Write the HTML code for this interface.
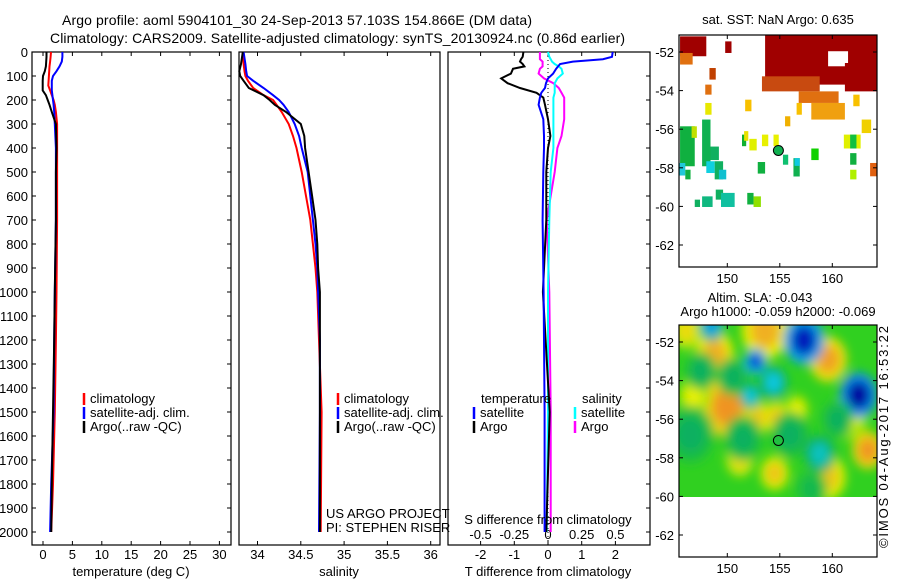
<!DOCTYPE html>
<html><head><meta charset="utf-8"><style>
html,body{margin:0;padding:0;background:#fff;}
svg{display:block;font-family:"Liberation Sans",sans-serif;}
text{font-size:13px;fill:#000;}
</style></head><body>
<svg id="fig" width="900" height="580" viewBox="0 0 900 580" xmlns="http://www.w3.org/2000/svg">
<defs>
<clipPath id="clipSST"><rect x="679" y="35" width="198" height="232"/></clipPath>
<clipPath id="clipSLA"><rect x="679" y="325" width="198" height="172"/></clipPath>
<filter id="blur" x="-20%" y="-20%" width="140%" height="140%"><feGaussianBlur stdDeviation="5"/></filter>
</defs>
<text x="62" y="25" style="font-size:14px" textLength="470">Argo profile: aoml 5904101_30 24-Sep-2013 57.103S 154.866E (DM data)</text>
<text x="50" y="43" style="font-size:14px" textLength="575">Climatology: CARS2009. Satellite-adjusted climatology: synTS_20130924.nc (0.86d earlier)</text>
<g id="g1"></g>
<g id="g2"></g>
<g id="g3"></g>
<g id="g4"></g>
<g id="g5"></g>
<text transform="translate(888,548) rotate(-90)" x="0" y="0" textLength="222">©IMOS 04-Aug-2017 16:53:22</text>
</svg>
<script>
// ---------- profile data ----------
const depthT = [0,20,40,60,80,100,120,140,160,180,200,220,250,300,400,500,700,1000,1200,1500,1800,2000];
const argoT  = [0.6,0.6,0.55,0.5,0.3,0.0,-0.05,-0.05,-0.05,0.5,0.8,1.1,1.5,2.2,2.3,2.2,2.2,2.0,1.9,1.7,1.5,1.4];
const climT  = [1.36,1.3,1.2,1.1,1.05,1.0,0.95,0.9,1.2,1.5,1.8,2.0,2.2,2.4,2.4,2.4,2.4,2.3,2.2,2.0,1.7,1.4];
const satT   = [3.3,3.3,3.2,2.8,2.3,1.7,1.5,1.5,1.5,1.6,1.7,1.8,1.9,2.0,2.2,2.2,2.2,2.0,1.9,1.8,1.4,1.2];
const depthS = [0,50,80,100,120,150,180,200,220,250,300,350,400,500,600,700,800,900,1000,1200,1500,2000];
const argoS  = [33.83,33.81,33.79,33.80,33.84,33.90,34.07,34.14,34.20,34.33,34.50,34.54,34.55,34.59,34.63,34.67,34.69,34.70,34.72,34.72,34.72,34.72];
const climS  = [33.83,33.84,33.85,33.86,33.89,33.95,34.07,34.18,34.22,34.28,34.36,34.41,34.45,34.51,34.56,34.61,34.64,34.67,34.69,34.71,34.74,34.73];
const satS   = [33.84,33.86,33.87,33.88,33.95,34.07,34.18,34.25,34.30,34.36,34.43,34.48,34.51,34.58,34.61,34.64,34.67,34.69,34.70,34.72,34.72,34.71];
const depthD = [0,20,30,40,50,60,70,90,110,130,150,170,190,220,280,350,400,500,700,1000,1500,2000];
const satTdiff  = [1.92,1.9,1.63,0.74,0.36,0.3,0.24,0.15,0.0,-0.06,-0.09,-0.2,-0.24,-0.28,-0.14,-0.12,-0.12,-0.14,-0.16,-0.13,-0.1,-0.1];
const argoTdiff = [-0.73,-0.75,-0.8,-0.83,-0.75,-0.7,-1.04,-1.1,-1.39,-1.2,-0.83,-0.34,-0.14,-0.09,0.0,0.07,0.0,-0.05,-0.05,-0.15,0.05,-0.05];
const satSdiff  = [0,0.01,0.02,0.03,0.05,0.08,0.1,0.11,0.07,0.05,0.05,0.05,0.04,0.04,0.04,0.04,0.04,0.02,0.01,0.0,0.0,-0.01];
const argoSdiff = [-0.06,-0.06,-0.06,-0.04,-0.04,-0.04,-0.06,-0.07,-0.03,0.04,0.08,0.10,0.12,0.12,0.12,0.10,0.07,0.05,-0.01,0.01,0.02,0.02];
const depthTicks = [0,100,200,300,400,500,600,700,800,900,1000,1100,1200,1300,1400,1500,1600,1700,1800,1900,2000];
const tempTicks = [0,5,10,15,20,25,30];
const salTicks = [34,34.5,35,35.5,36];
const salTickLabels = ["34","34.5","35","35.5","36"];
const tdiffTicks = [-2,-1,0,1,2];
const sdiffTicks = [-0.5,-0.25,0,0.25,0.5];
const sdiffLabels = ["-0.5","-0.25","0","0.25","0.5"];
// ---------- map data ----------
const lonTicks = [150,155,160];
const latTicks = [-52,-54,-56,-58,-60,-62];
const sstCells = [
[153.6,-51.1,164.3,-53.69,"#a00000"],[159.6,-51.96,161.5,-52.74,"#ffffff"],[161.2,-52.57,164.3,-54.04,"#a00000"],
[153.3,-53.26,158.8,-54.04,"#c84a10"],[156.8,-54.04,160.6,-54.64,"#e07010"],[158.0,-54.64,161.2,-55.5,"#f0a010"],
[145.5,-51.19,148.0,-52.22,"#a00000"],[149.8,-51.45,150.4,-52.05,"#a00000"],[145.5,-52.05,146.7,-52.65,"#e07010"],
[148.3,-52.83,148.9,-53.43,"#c04000"],[147.9,-53.69,148.5,-54.21,"#e07010"],[147.9,-54.64,148.5,-55.25,"#e8e800"],
[151.7,-54.47,152.3,-55.07,"#f8c000"],[156.6,-54.64,157.1,-55.25,"#f8c000"],[155.5,-55.33,156.0,-55.85,"#f0b000"],
[162.0,-54.21,162.6,-54.81,"#f8c000"],[162.8,-55.5,163.7,-56.2,"#f0d000"],
[145.5,-55.85,146.9,-57.92,"#10b040"],[146.6,-55.85,147.1,-56.45,"#c0e000"],[147.6,-55.5,148.4,-57.92,"#10b050"],
[148.4,-56.9,149.2,-57.6,"#10b060"],[148.0,-57.66,148.8,-58.27,"#10d0e0"],[148.8,-57.66,149.6,-58.6,"#10b060"],
[149.2,-58.1,149.9,-58.6,"#10c0d0"],[145.4,-57.75,146.0,-58.4,"#20c8d8"],[146.0,-58.1,146.5,-58.6,"#10b040"],
[151.4,-56.28,151.8,-56.88,"#10b030"],[151.6,-56.1,152.0,-56.6,"#e8e000"],[152.1,-56.5,152.8,-57.1,"#e0f000"],
[153.3,-56.28,153.9,-56.88,"#e8f000"],[154.4,-56.28,154.9,-56.88,"#e8f000"],[155.3,-57.32,155.8,-57.84,"#10c070"],
[156.3,-57.5,156.9,-58.45,"#10b050"],[156.4,-57.5,156.9,-57.9,"#10c8e0"],[152.9,-57.7,153.6,-58.3,"#10b040"],
[158.0,-57.0,158.7,-57.6,"#10d000"],[161.1,-56.28,162.7,-57.0,"#e0f000"],[161.7,-56.28,162.3,-57.0,"#10c040"],
[161.7,-57.24,162.3,-57.84,"#10b040"],[161.7,-58.1,162.3,-58.6,"#b0f000"],[163.6,-57.75,164.3,-58.44,"#e06010"],
[146.9,-59.65,147.4,-60.03,"#10b060"],[147.6,-59.48,148.6,-60.03,"#10b880"],[148.9,-59.13,149.6,-59.65,"#10b060"],
[149.4,-59.3,150.7,-60.03,"#10c0a0"],[151.9,-59.3,152.5,-59.9,"#10b040"],[152.5,-59.48,153.2,-60.03,"#90e000"]
];
const slaLon = [148.8,153.6,150.0,153.0,154.7,159.6,163.4,154.5,151.2,159.5,146.1,156.6,161.6,146.8,157.3,152.7,162.5,148.5,154.4,152.2,158.8,146.5,151.5,156.0,160.5,147.5,150.5,158.0];
const slaLat = [-52.6,-51.4,-55.35,-55.9,-55.9,-52.9,-57.6,-58.8,-58.1,-59.0,-51.4,-55.5,-55.9,-54.8,-51.9,-53.0,-54.75,-51.2,-54.1,-54.8,-57.8,-56.8,-57.0,-56.8,-56.0,-53.5,-53.8,-59.6];
const slaVal = [0.6,0.6,0.8,0.5,0.5,0.7,0.8,0.5,0.4,0.5,0.4,0.3,0.3,0.3,-0.9,-0.8,-1.0,-0.5,-0.4,-0.4,-0.35,-0.2,-0.2,-0.2,-0.2,-0.2,-0.2,-0.15];
const slaRad = [1.2,1.5,1.6,0.8,0.8,1.2,1.0,0.9,0.9,1.2,1.0,0.8,1.2,1.0,1.3,0.7,1.2,0.8,0.9,0.7,1.0,1.5,1.2,1.2,1.0,1.0,1.0,1.0];
const argoLon = 154.866, argoLat = -57.103;

// ---------- helpers ----------
const NS = "http://www.w3.org/2000/svg";
function mk(parent, tag, attrs, txt){const e=document.createElementNS(NS,tag);for(const k in attrs)e.setAttribute(k,attrs[k]);if(txt!==undefined)e.textContent=txt;parent.appendChild(e);return e;}
const yD = d => 52 + d*0.24;
const PB = 545;
const xTemp = t => 43 + t*5.88;
const xSal = s => 257.5 + (s-34)*86.6;
const xTd = t => 548 + t*33.7;
const xSd = s => 548 + s*134.8;

function profile(g, depths, vals, xf, color, name){
  let pts=[];
  for(let i=0;i<depths.length;i++){
    pts.push(xf(vals[i]).toFixed(1)+","+yD(depths[i]).toFixed(1));
  }
  const p = mk(g,"polyline",{points:pts.join(" "),fill:"none",stroke:color,"stroke-width":2});
  
  
}
function frame(g, x0, x1, name){
  const r = mk(g,"rect",{x:x0,y:52,width:x1-x0,height:PB-52,fill:"none",stroke:"#000","stroke-width":1.2});
  
  
}
function legend(g, x, y, color, label, name){
  const l = mk(g,"line",{x1:x,y1:y-10,x2:x,y2:y+2,stroke:color,"stroke-width":2.5});
  
  
  const t = mk(g,"text",{x:x+6,y:y},label);
  
  
}

// ---------- panel 1 ----------
const g1=document.getElementById('g1');
frame(g1,32,231,'temperature-axes-frame');
depthTicks.forEach(d=>{
  mk(g1,"line",{x1:32,y1:yD(d),x2:36,y2:yD(d),stroke:"#000"});
  mk(g1,"line",{x1:231,y1:yD(d),x2:227,y2:yD(d),stroke:"#000"});
  const t=mk(g1,"text",{x:28,y:yD(d)+5,"text-anchor":"end"},String(d));
  
  
});
tempTicks.forEach(v=>{
  mk(g1,"line",{x1:xTemp(v),y1:PB,x2:xTemp(v),y2:PB-4,stroke:"#000"});
  mk(g1,"line",{x1:xTemp(v),y1:52,x2:xTemp(v),y2:56,stroke:"#000"});
  const t=mk(g1,"text",{x:xTemp(v),y:559,"text-anchor":"middle"},String(v));
  
  
});
profile(g1,depthT,climT,xTemp,"#ff0000",'temperature-climatology-line');
profile(g1,depthT,satT,xTemp,"#0000ff",'temperature-satellite-line');
profile(g1,depthT,argoT,xTemp,"#000000",'temperature-argo-line');
legend(g1,84,403,"#ff0000","climatology",'legend-climatology');
legend(g1,84,417,"#0000ff","satellite-adj. clim.",'legend-satellite-adj');
legend(g1,84,431,"#000000","Argo(..raw -QC)",'legend-argo');
{const t=mk(g1,"text",{x:131,y:576,"text-anchor":"middle"},"temperature (deg C)");

}

// ---------- panel 2 ----------
const g2=document.getElementById('g2');
frame(g2,239,440,'salinity-axes-frame');
salTicks.forEach((v,i)=>{
  mk(g2,"line",{x1:xSal(v),y1:PB,x2:xSal(v),y2:PB-4,stroke:"#000"});
  mk(g2,"line",{x1:xSal(v),y1:52,x2:xSal(v),y2:56,stroke:"#000"});
  const t=mk(g2,"text",{x:xSal(v),y:559,"text-anchor":"middle"},salTickLabels[i]);
  
  
});
profile(g2,depthS,climS,xSal,"#ff0000",'salinity-climatology-line');
profile(g2,depthS,satS,xSal,"#0000ff",'salinity-satellite-line');
profile(g2,depthS,argoS,xSal,"#000000",'salinity-argo-line');
legend(g2,338,403,"#ff0000","climatology",'legend-climatology-s');
legend(g2,338,417,"#0000ff","satellite-adj. clim.",'legend-satellite-adj-s');
legend(g2,338,431,"#000000","Argo(..raw -QC)",'legend-argo-s');
{let t=mk(g2,"text",{x:326,y:518},"US ARGO PROJECT");

t=mk(g2,"text",{x:326,y:532},"PI: STEPHEN RISER");

t=mk(g2,"text",{x:339,y:576,"text-anchor":"middle"},"salinity");
}

// ---------- panel 3 ----------
const g3=document.getElementById('g3');
frame(g3,448,650,'difference-axes-frame');
depthTicks.forEach(d=>{mk(g3,"line",{x1:650,y1:yD(d),x2:646,y2:yD(d),stroke:"#000"});});
tdiffTicks.forEach(v=>{
  mk(g3,"line",{x1:xTd(v),y1:PB,x2:xTd(v),y2:PB-4,stroke:"#000"});
  const t=mk(g3,"text",{x:xTd(v),y:559,"text-anchor":"middle"},String(v));
  
  
});
sdiffTicks.forEach((v,i)=>{
  mk(g3,"line",{x1:xSd(v),y1:52,x2:xSd(v),y2:56,stroke:"#000"});
  const t=mk(g3,"text",{x:xSd(v),y:539,"text-anchor":"middle"},sdiffLabels[i]);
  
  
});
{const z=mk(g3,"line",{x1:xTd(0),y1:52,x2:xTd(0),y2:PB,stroke:"#000","stroke-dasharray":"1,3"});
}
profile(g3,depthD,argoSdiff,xSd,"#ff00ff",'salinity-argo-diff-line');
profile(g3,depthD,satSdiff,xSd,"#00ffff",'salinity-satellite-diff-line');
profile(g3,depthD,argoTdiff,xTd,"#000000",'temperature-argo-diff-line');
profile(g3,depthD,satTdiff,xTd,"#0000ff",'temperature-satellite-diff-line');
{let t=mk(g3,"text",{x:481,y:403},"temperature");

t=mk(g3,"text",{x:582,y:403},"salinity");
}
legend(g3,474,417,"#0000ff","satellite",'legend-t-satellite');
legend(g3,474,431,"#000000","Argo",'legend-t-argo');
legend(g3,575,417,"#00ffff","satellite",'legend-s-satellite');
legend(g3,575,431,"#ff00ff","Argo",'legend-s-argo');
{let t=mk(g3,"text",{x:548,y:524,"text-anchor":"middle"},"S difference from climatology");

t=mk(g3,"text",{x:548,y:576,"text-anchor":"middle"},"T difference from climatology");
}

// ---------- maps ----------
const xLon = lon => 727.3 + (lon-150)*10.5;
function mapAxes(g, top, bottom, lat52y, prefix){
  const yLat = lat => lat52y - (lat+52)*19.3;
  const r=mk(g,"rect",{x:679,y:top,width:198,height:bottom-top,fill:"none",stroke:"#000","stroke-width":1.2});
  
  
  lonTicks.forEach(v=>{
    mk(g,"line",{x1:xLon(v),y1:bottom,x2:xLon(v),y2:bottom-4,stroke:"#000"});
    mk(g,"line",{x1:xLon(v),y1:top,x2:xLon(v),y2:top+4,stroke:"#000"});
    const t=mk(g,"text",{x:xLon(v),y:bottom+16,"text-anchor":"middle"},String(v));
    
    
  });
  latTicks.forEach(v=>{
    mk(g,"line",{x1:679,y1:yLat(v),x2:683,y2:yLat(v),stroke:"#000"});
    mk(g,"line",{x1:877,y1:yLat(v),x2:873,y2:yLat(v),stroke:"#000"});
    const t=mk(g,"text",{x:674,y:yLat(v)+5,"text-anchor":"end"},String(v));
    
    
  });
  return yLat;
}
const g4=document.getElementById('g4');
{const t=mk(g4,"text",{x:778,y:24,"text-anchor":"middle"},"sat. SST: NaN Argo: 0.635");
}
const yLat1 = lat => 52 - (lat+52)*19.3;
const cg=mk(g4,"g",{"clip-path":"url(#clipSST)"});
sstCells.forEach(c=>{
  const r=mk(cg,"rect",{x:xLon(c[0]),y:yLat1(c[1]),width:xLon(c[2])-xLon(c[0]),height:yLat1(c[3])-yLat1(c[1]),fill:c[4]});
  
  
});
mapAxes(g4,35,267,52,'sst-map');
{const c=mk(g4,"circle",{cx:xLon(argoLon),cy:yLat1(argoLat),r:5,fill:"#10b050",stroke:"#000","stroke-width":1});
}

const g5=document.getElementById('g5');
{let t=mk(g5,"text",{x:760,y:302,"text-anchor":"middle"},"Altim. SLA: -0.043");

t=mk(g5,"text",{x:778,y:316,"text-anchor":"middle"},"Argo h1000: -0.059 h2000: -0.069");
}
const yLat2 = lat => 342 - (lat+52)*19.3;
function jet(v){
  const stops=[[-1,[0,0,160]],[-0.7,[16,80,240]],[-0.4,[16,200,224]],[-0.2,[16,176,96]],[0,[48,208,32]],[0.3,[232,240,0]],[0.6,[240,176,32]],[1,[240,120,32]]];
  for(let i=0;i<stops.length-1;i++){const a=stops[i],b=stops[i+1];if(v<=b[0]){const f=(v-a[0])/(b[0]-a[0]);const c=a[1].map((x,k)=>Math.round(x+(b[1][k]-x)*f));return "rgb("+c.join(",")+")";}}
  return "rgb(240,120,32)";
}
const sg=mk(g5,"g",{"clip-path":"url(#clipSLA)"});
{const bg=mk(sg,"rect",{x:679,y:325,width:198,height:172,fill:jet(0)});
}
const bg2=mk(sg,"g",{filter:"url(#blur)"});
for(let i=0;i<slaVal.length;i++){
  const cx=xLon(slaLon[i]), cy=yLat2(slaLat[i]), rx=slaRad[i]*10.5;
  const e1=mk(bg2,"ellipse",{cx:cx,cy:cy,rx:rx*1.5,ry:rx*1.8,fill:jet(slaVal[i]*0.55)});
  
  
  const e2=mk(bg2,"ellipse",{cx:cx,cy:cy,rx:rx*0.9,ry:rx*1.1,fill:jet(slaVal[i])});
  
  
}
mapAxes(g5,325,557,342,'sla-map');
{const c=mk(g5,"circle",{cx:xLon(argoLon),cy:yLat2(argoLat),r:5,fill:"#20c040",stroke:"#000","stroke-width":1});
}
</script>
</body></html>
